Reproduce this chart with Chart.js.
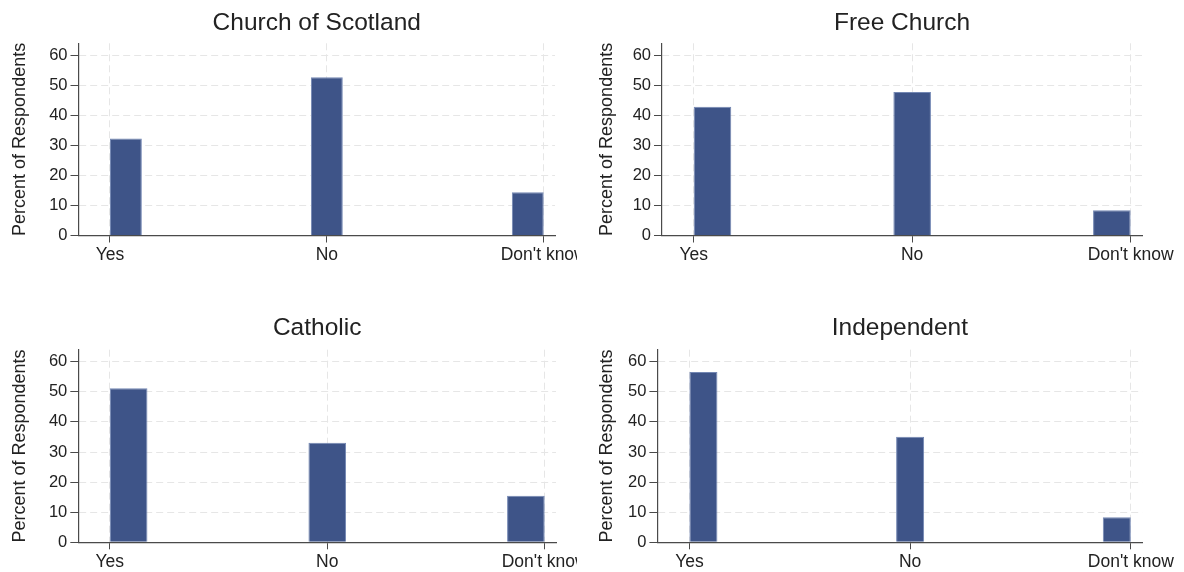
<!DOCTYPE html>
<html>
<head>
<meta charset="utf-8">
<script src="https://cdn.jsdelivr.net/npm/chart.js@4"></script>
<style>
  html, body { margin: 0; padding: 0; background: #ffffff; }
  body { width: 1184px; height: 572px; position: relative; overflow: hidden; }
  .panel { position: absolute; }
</style>
</head>
<body>
<div class="panel" id="p0"><canvas id="c0"></canvas></div>
<div class="panel" id="p1"><canvas id="c1"></canvas></div>
<div class="panel" id="p2"><canvas id="c2"></canvas></div>
<div class="panel" id="p3"><canvas id="c3"></canvas></div>
<script>
// ---- data ----
const categories = ["Yes", "No", "Don't know"];
const panelTitles = ["Church of Scotland", "Free Church", "Catholic", "Independent"];
const churchOfScotland = [32.3, 52.7, 14.4];
const freeChurch = [42.9, 47.8, 8.4];
const catholic = [51.2, 33.1, 15.5];
const independent = [56.6, 35.1, 8.3];
const yTickValues = [0, 10, 20, 30, 40, 50, 60];
const yAxisTitle = "Percent of Respondents";

const seriesList = [churchOfScotland, freeChurch, catholic, independent];

// ---- layout (positions / sizes, separate from data) ----
const layoutCfg = [
  { box: {left: 0,   top: 0,   width: 577, height: 286}, area: {left: 78.5, right: 555,   top: 43.3, bottom: 235.5}, yTitleX: 20.5, titleY: 23,   binW: 0.147 },
  { box: {left: 585, top: 0,   width: 599, height: 286}, area: {left: 77,   right: 557,   top: 43.3, bottom: 235.5}, yTitleX: 22,   titleY: 23,   binW: 0.172 },
  { box: {left: 0,   top: 290, width: 577, height: 282}, area: {left: 78.3, right: 556,   top: 59.7, bottom: 252.3}, yTitleX: 20.5, titleY: 38.5, binW: 0.173 },
  { box: {left: 585, top: 290, width: 599, height: 282}, area: {left: 72.4, right: 557.3, top: 59.7, bottom: 252.3}, yTitleX: 22,   titleY: 38.5, binW: 0.127 }
];

const FONT = "'Liberation Sans', Arial, Helvetica, sans-serif";
const TITLE_SIZE = 24.5, TITLE_LH = 1.2;
const YTITLE_SIZE = 18, YTITLE_LH = 1.2;
const X_AXIS_H = 30;
const X_MIN = 0.855, X_MAX = 3.052, Y_MAX = 64;
const BAR_FILL = '#3e5488';
const BAR_EDGE = '#7387b3';
const GRID = '#e6e6e6';
const AXIS = '#4a4a4a';
const TEXT = '#222222';

seriesList.forEach((values, p) => {
  const cfg = layoutCfg[p];
  const div = document.getElementById('p' + p);
  div.style.left = cfg.box.left + 'px';
  div.style.top = cfg.box.top + 'px';
  div.style.width = cfg.box.width + 'px';
  div.style.height = cfg.box.height + 'px';

  const n = categories.length;
  const w = cfg.binW;
  // histogram-style bins anchored at the first and last category ticks
  const points = values.map((v, i) => ({ x: 1 + i + w * (0.5 - i / (n - 1)), y: v }));

  const titleLine = TITLE_SIZE * TITLE_LH;
  const padTop = cfg.titleY - titleLine / 2;
  const titlePadBottom = cfg.area.top - padTop - titleLine;

  new Chart(document.getElementById('c' + p), {
    type: 'bar',
    data: {
      datasets: [{
        data: points,
        backgroundColor: BAR_FILL,
        borderColor: BAR_EDGE,
        borderWidth: 1,
        categoryPercentage: 1,
        barPercentage: w / (1 - w / 2)
      }]
    },
    options: {
      responsive: true,
      maintainAspectRatio: false,
      animation: false,
      events: [],
      layout: {
        autoPadding: false,
        padding: {
          left: 0,
          top: padTop,
          right: cfg.box.width - cfg.area.right,
          bottom: cfg.box.height - cfg.area.bottom - X_AXIS_H
        }
      },
      plugins: {
        legend: { display: false },
        tooltip: { enabled: false },
        title: {
          display: true,
          text: panelTitles[p],
          fullSize: false,
          color: TEXT,
          font: { family: FONT, size: TITLE_SIZE, weight: 'normal', lineHeight: TITLE_LH },
          padding: { top: 0, bottom: titlePadBottom }
        }
      },
      scales: {
        x: {
          type: 'linear',
          offset: false,
          min: X_MIN,
          max: X_MAX,
          afterBuildTicks: (scale) => {
            scale.ticks = categories.map((c, i) => ({ value: i + 1 }));
          },
          afterFit: (scale) => {
            scale.height = X_AXIS_H;
            scale.paddingLeft = 0;
            scale.paddingRight = 0;
          },
          ticks: {
            autoSkip: false,
            maxRotation: 0,
            padding: 2,
            color: TEXT,
            font: { family: FONT, size: 17.5 },
            callback: (v) => categories[Math.round(v) - 1]
          },
          grid: {
            offset: false,
            color: GRID,
            lineWidth: 1,
            tickLength: 7,
            tickColor: AXIS,
            tickWidth: 1
          },
          border: { display: true, color: AXIS, width: 1.2, dash: [7, 4] }
        },
        y: {
          min: 0,
          max: Y_MAX,
          afterBuildTicks: (scale) => {
            scale.ticks = yTickValues.map(v => ({ value: v }));
          },
          afterFit: (scale) => {
            scale.width = cfg.area.left;
            scale.paddingTop = 0;
            scale.paddingBottom = 0;
          },
          ticks: {
            padding: 3,
            color: TEXT,
            font: { family: FONT, size: 16.5 }
          },
          grid: {
            color: GRID,
            lineWidth: 1,
            tickLength: 8,
            tickColor: AXIS,
            tickWidth: 1
          },
          border: { display: true, color: AXIS, width: 1.2, dash: [7, 4] },
          title: {
            display: true,
            text: yAxisTitle,
            color: TEXT,
            font: { family: FONT, size: YTITLE_SIZE, lineHeight: YTITLE_LH },
            padding: { top: cfg.yTitleX - YTITLE_SIZE * YTITLE_LH / 2, bottom: 0 }
          }
        }
      }
    }
  });
});
</script>
</body>
</html>
